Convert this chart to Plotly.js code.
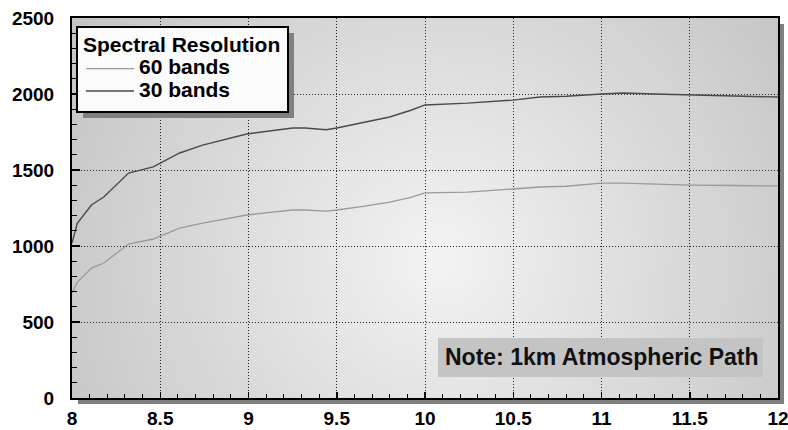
<!DOCTYPE html>
<html>
<head>
<meta charset="utf-8">
<script src="https://cdn.plot.ly/plotly-3.0.1.min.js"></script>
<style>
  html, body { margin: 0; padding: 0; background: #ffffff; }
  #chart { width: 788px; height: 430px; }
</style>
</head>
<body>
<div id="chart"></div>
<script>
// ---- data ----
const wavelength = [8.0, 8.03, 8.11, 8.18, 8.32, 8.46, 8.61, 8.74, 8.99, 9.12, 9.25, 9.32, 9.44, 9.5, 9.65, 9.8, 9.92, 10.0, 10.24, 10.5, 10.65, 10.8, 11.0, 11.12, 11.3, 11.5, 11.75, 12.0];
const bands30 = [1020, 1150, 1270, 1322, 1480, 1520, 1612, 1664, 1737, 1755, 1776, 1776, 1765, 1776, 1810, 1849, 1893, 1928, 1940, 1960, 1980, 1985, 2000, 2007, 2000, 1993, 1988, 1980];
const bands60 = [690, 763, 855, 888, 1013, 1046, 1118, 1151, 1204, 1220, 1237, 1237, 1230, 1237, 1260, 1289, 1320, 1349, 1355, 1375, 1388, 1393, 1414, 1414, 1408, 1401, 1398, 1395];
const seriesNames = ["60 bands", "30 bands"];
const legendTitle = "Spectral Resolution";
const noteText = "Note: 1km Atmospheric Path";

// ---- styling ----
const FONT = "Liberation Sans, Arial, Helvetica, sans-serif";
const W = 788, H = 430;
const M = {l: 72, r: 10, t: 18, b: 32};
const PW = W - M.l - M.r, PH = H - M.t - M.b;
const fx = px => (px - M.l) / PW;
const fy = py => (H - M.b - py) / PH;
const big = s => "<span style='font-size:21px'>" + s + "</span>";

const svg = "<svg xmlns='http://www.w3.org/2000/svg' width='706' height='380' viewBox='0 0 706 380' preserveAspectRatio='none'>" +
  "<defs><radialGradient id='g' gradientUnits='userSpaceOnUse' cx='368' cy='240' r='450'>" +
  "<stop offset='0' stop-color='#f3f3f3'/><stop offset='1' stop-color='#c2c2c2'/></radialGradient></defs>" +
  "<rect width='706' height='380' fill='url(#g)'/></svg>";
const bgURI = "data:image/svg+xml;charset=utf-8," + encodeURIComponent(svg);

const traces = [
  {x: wavelength, y: bands60, name: big(seriesNames[0]), type: "scatter", mode: "lines",
   line: {color: "#9a9a9a", width: 1.3}},
  {x: wavelength, y: bands30, name: big(seriesNames[1]), type: "scatter", mode: "lines",
   line: {color: "#4a4a4a", width: 1.4}}
];

const tickfont = {family: FONT, size: 19, color: "#000", weight: "bold"};

const layout = {
  width: W, height: H,
  margin: M,
  paper_bgcolor: "#ffffff",
  plot_bgcolor: "#d8d8d8",
  showlegend: true,
  legend: {
    x: fx(81), y: fy(25), xanchor: "left", yanchor: "top",
    bgcolor: "rgba(0,0,0,0)", borderwidth: 0,
    font: {family: FONT, size: 15, color: "#000", weight: "bold"},
    title: {text: legendTitle, side: "top", font: {family: FONT, size: 21, color: "#000", weight: "bold"}},
    itemwidth: 48
  },
  xaxis: {
    range: [8, 12], tick0: 8, dtick: 0.5,
    ticks: "inside", ticklen: 6, tickwidth: 1.5, tickcolor: "#000",
    showgrid: true, gridcolor: "#222", gridwidth: 1, griddash: "1px,2px",
    minor: {dtick: 0.1, ticks: "inside", ticklen: 4, tickwidth: 1, tickcolor: "#000", showgrid: false},
    showline: true, linecolor: "#000", linewidth: 2, mirror: true,
    zeroline: false, tickfont: tickfont, ticklabelstandoff: 2, ticklabeloverflow: "allow",
    fixedrange: true
  },
  yaxis: {
    range: [0, 2500], tick0: 0, dtick: 500,
    ticks: "inside", ticklen: 8, tickwidth: 1.5, tickcolor: "#000",
    showgrid: true, gridcolor: "#222", gridwidth: 1, griddash: "1px,2px",
    minor: {dtick: 100, ticks: "inside", ticklen: 5, tickwidth: 1, tickcolor: "#000", showgrid: false},
    showline: true, linecolor: "#000", linewidth: 2, mirror: true,
    zeroline: false, tickfont: tickfont, ticklabelstandoff: 12, fixedrange: true
  },
  images: [{
    source: bgURI, xref: "paper", yref: "paper", x: 0, y: 1, sizex: 1, sizey: 1,
    xanchor: "left", yanchor: "top", sizing: "stretch", layer: "below"
  }],
  shapes: [
    // plot shadow (right and bottom strips)
    {type: "rect", xref: "paper", yref: "paper", x0: fx(778), x1: fx(784), y0: fy(404), y1: fy(24),
     fillcolor: "#808080", line: {width: 0}, layer: "below"},
    {type: "rect", xref: "paper", yref: "paper", x0: fx(78), x1: fx(784), y0: fy(404), y1: fy(398),
     fillcolor: "#808080", line: {width: 0}, layer: "below"},
    // legend shadow and box
    {type: "rect", xref: "paper", yref: "paper", x0: fx(83), x1: fx(294), y0: fy(118), y1: fy(33),
     fillcolor: "#808080", line: {width: 0}, layer: "above"},
    {type: "rect", xref: "paper", yref: "paper", x0: fx(77), x1: fx(288), y0: fy(112), y1: fy(27),
     fillcolor: "#fbfbfb", line: {color: "#000", width: 2}, layer: "above"},
    // note box
    {type: "rect", xref: "paper", yref: "paper", x0: fx(438), x1: fx(763), y0: fy(377), y1: fy(338),
     fillcolor: "#c4c4c4", line: {width: 0}, layer: "above"}
  ],
  annotations: [{
    text: noteText, xref: "paper", yref: "paper", x: fx(602), y: fy(357),
    xanchor: "center", yanchor: "middle", showarrow: false,
    font: {family: FONT, size: 23, color: "#111", weight: "bold"}
  }]
};

Plotly.newPlot("chart", traces, layout, {displayModeBar: false, staticPlot: true});
</script>
</body>
</html>
